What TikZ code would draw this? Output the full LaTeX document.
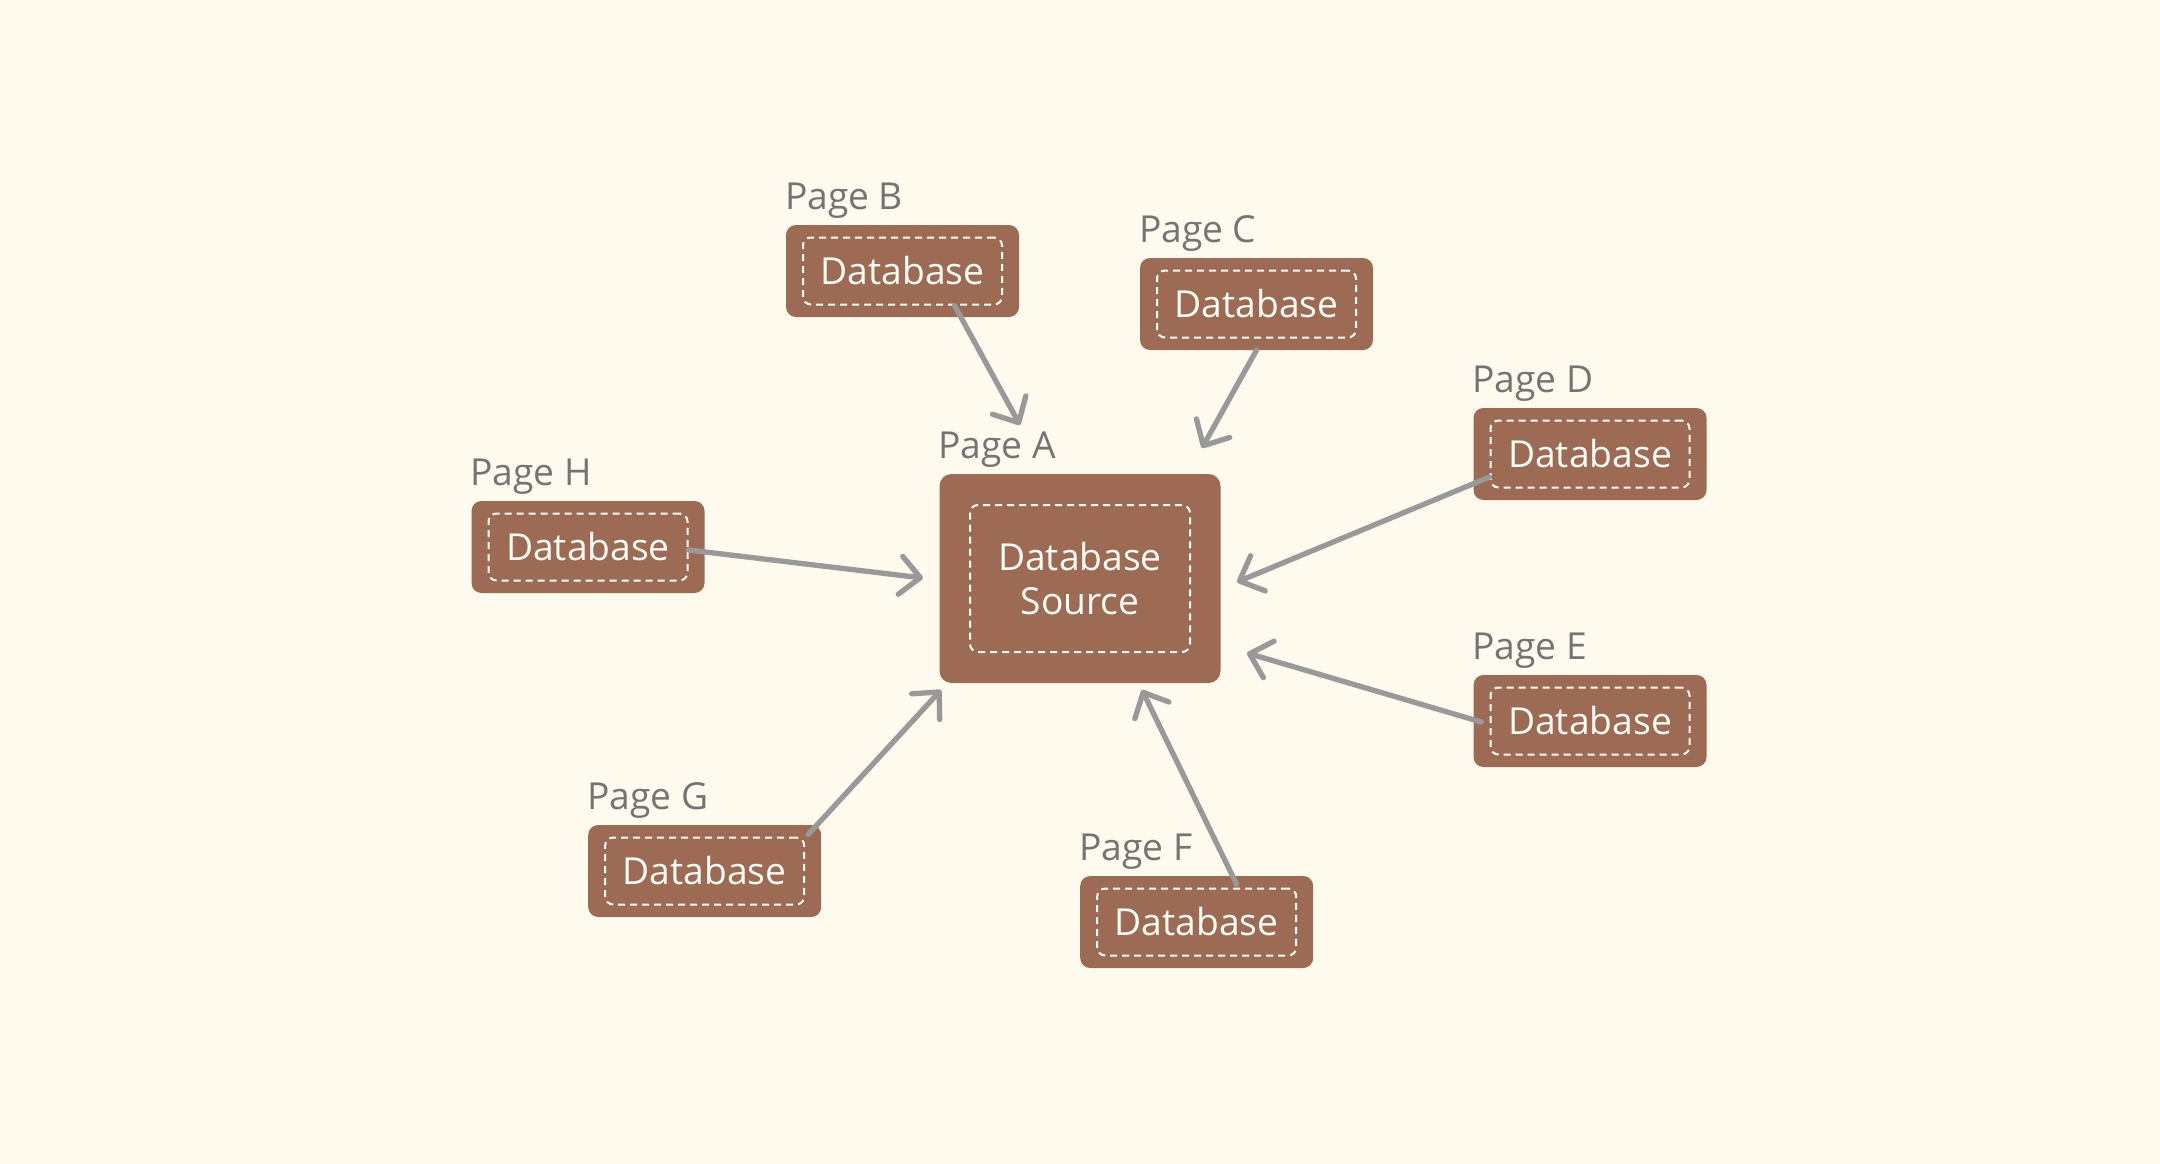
\documentclass[tikz,border=0pt]{standalone}
\usepackage{fontspec}
\setmainfont{Open Sans}
\usetikzlibrary{arrows.meta}
\definecolor{bgcream}{HTML}{FEFAEE}
\definecolor{boxbrown}{HTML}{9D6A53}
\definecolor{lblgray}{HTML}{747474}
\definecolor{arrgray}{HTML}{999999}
\definecolor{txtwhite}{HTML}{FFFDF8}
\begin{document}
\begin{tikzpicture}[x=1pt,y=-1pt,
  outer/.style={draw=none,fill=boxbrown,rounded corners=10pt,minimum width=233pt,minimum height=92pt,inner sep=0pt},
  mainouter/.style={outer,minimum width=281pt,minimum height=209pt,rounded corners=12pt},
  inner/.style={draw=txtwhite,line width=2pt,dash pattern=on 7pt off 5pt,rounded corners=8pt,minimum width=199pt,minimum height=67pt,inner sep=0pt,text=txtwhite,font=\fontsize{37.2}{43.5}\selectfont},
  maininner/.style={inner,minimum width=220pt,minimum height=147pt,align=center},
  lbl/.style={text=lblgray,font=\fontsize{37.2}{43.5}\selectfont,inner sep=0pt,anchor=base west},
  arr/.style={draw=arrgray,line width=5.3pt,line cap=round,-{Straight Barb[length=20pt,width=38pt,line cap=round,line join=round]}}]
\useasboundingbox (0,0) rectangle (2160,1164);
\fill[bgcream] (0,0) rectangle (2160,1164);

% main box
\node[mainouter] (A) at (1080,578.5) {};
\node[maininner] (Ai) at (1080,578.5) {Database\\Source};
\node[lbl] (Al) at ([xshift=-1pt,yshift=15pt]A.north west) {Page A};

% satellite boxes
\node[outer] (B) at (902.5,271) {};
\node[inner] (Bi) at (902.5,271) {Database};
\node[lbl] (Bl) at ([xshift=-1pt,yshift=15pt]B.north west) {Page B};

\node[outer] (C) at (1256.5,304) {};
\node[inner] (Ci) at (1256.5,304) {Database};
\node[lbl] (Cl) at ([xshift=-1pt,yshift=15pt]C.north west) {Page C};

\node[outer] (D) at (1590,454) {};
\node[inner] (Di) at (1590,454) {Database};
\node[lbl] (Dl) at ([xshift=-1pt,yshift=15pt]D.north west) {Page D};

\node[outer] (E) at (1590,721) {};
\node[inner] (Ei) at (1590,721) {Database};
\node[lbl] (El) at ([xshift=-1pt,yshift=15pt]E.north west) {Page E};

\node[outer] (F) at (1196.7,922) {};
\node[inner] (Fi) at (1196.7,922) {Database};
\node[lbl] (Fl) at ([xshift=-1pt,yshift=15pt]F.north west) {Page F};

\node[outer] (G) at (704.7,871) {};
\node[inner] (Gi) at (704.7,871) {Database};
\node[lbl] (Gl) at ([xshift=-1pt,yshift=15pt]G.north west) {Page G};

\node[outer] (H) at (588,547) {};
\node[inner] (Hi) at (588,547) {Database};
\node[lbl] (Hl) at ([xshift=-1pt,yshift=15pt]H.north west) {Page H};

% arrow tips near the main box
\coordinate (tB) at (1020,425);
\coordinate (tC) at (1202,448);
\coordinate (tD) at (1237,582);
\coordinate (tE) at (1247,653);
\coordinate (tF) at (1142,690);
\coordinate (tG) at (941,690);
\coordinate (tH) at (923,578);

% connectors
\draw[arr] ([xshift=52pt]Bi.south) -- (tB);
\draw[arr] (C.south) -- (tC);
\draw[arr] ([yshift=-23pt]Di.west) -- (tD);
\draw[arr] ([xshift=8pt,yshift=-1pt]E.west) -- (tE);
\draw[arr] ([xshift=40pt,yshift=3pt]Fi.north) -- (tF);
\draw[arr] ([xshift=3pt,yshift=2pt]Gi.north east) -- (tG);
\draw[arr] ([yshift=-3pt]Hi.east) -- (tH);
\end{tikzpicture}
\end{document}
